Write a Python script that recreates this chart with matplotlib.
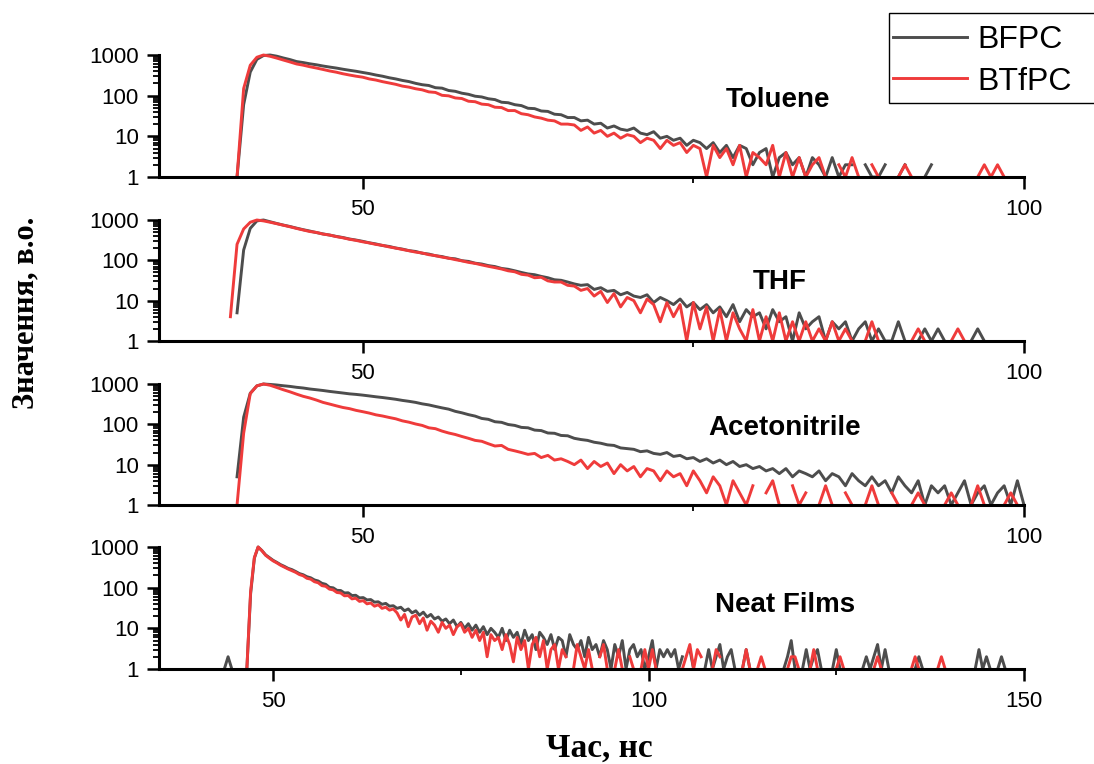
import numpy as np
import matplotlib
matplotlib.use("Agg")
import matplotlib.pyplot as plt
from matplotlib.lines import Line2D
from matplotlib.patches import Rectangle
from matplotlib.ticker import FixedLocator, LogLocator, NullFormatter

plt.rcParams['font.family'] = ['Liberation Sans', 'DejaVu Sans']

# ---------------------------------------------------------------------------
# Time-resolved photoluminescence decays (normalised counts, peak = 1000)
# ---------------------------------------------------------------------------
SERIES = ["BFPC", "BTfPC"]
SOLVENTS = ["Toluene", "THF", "Acetonitrile", "Neat Films"]
COLORS = {"BFPC": "#4d4d4d", "BTfPC": "#ef3b3b"}

# time of the first channel (ns) and channel width (ns)
T0_SOLUTION = 39.0
T0_FILM = 43.0
DT = 0.5

toluene_bfpc = [
    0, 0, 0, 1, 60, 380, 780, 970, 1000, 935,
    845, 772, 690, 652, 608, 575, 536, 505, 478, 447,
    421, 398, 372, 349, 322, 301, 276, 258, 237, 222,
    201, 186, 178, 157, 153, 134, 128, 115, 108, 97,
    93, 84, 80, 69, 67, 60, 57, 49, 48, 42,
    41, 35, 34, 29, 29, 24, 25, 20, 21, 16,
    18, 15, 14, 16, 12, 11, 13, 9, 10, 8,
    9, 6, 8, 7, 5, 7, 4, 6, 3, 6,
    5, 2, 4, 5, 1, 3, 4, 2, 3, 1,
    3, 2, 1, 3, 1, 2, 2, 0, 2, 1,
    1, 2, 0, 1, 2, 0, 0, 1, 2, 0,
    0, 0, 0, 0, 0, 0, 0, 0, 0, 0, 0, 0, 0,
]
toluene_btfpc = [
    0, 0, 0, 1, 150, 560, 880, 1000, 930, 840,
    752, 675, 602, 562, 515, 478, 441, 405, 378, 346,
    322, 301, 285, 258, 242, 221, 205, 190, 172, 162,
    148, 139, 124, 120, 102, 99, 88, 85, 73, 71,
    62, 60, 52, 51, 43, 43, 36, 34, 30, 28,
    25, 24, 20, 20, 19, 14, 17, 12, 14, 10,
    12, 9, 11, 10, 7, 9, 8, 5, 8, 6,
    7, 4, 6, 5, 1, 6, 3, 5, 2, 6,
    1, 4, 3, 2, 6, 1, 4, 1, 3, 1,
    2, 3, 1, 0, 2, 1, 3, 1, 0, 2,
    1, 0, 0, 1, 2, 1, 0, 0, 0, 0,
    0, 0, 0, 0, 0, 1, 2, 1, 2, 1, 0, 0, 0,
]

thf_bfpc = [
    0, 0, 0, 5, 180, 620, 950, 1000, 905, 820,
    748, 690, 628, 575, 532, 488, 452, 423, 392, 368,
    338, 318, 296, 272, 255, 233, 221, 202, 190, 174,
    166, 150, 143, 130, 124, 113, 109, 98, 94, 85,
    81, 74, 70, 63, 60, 55, 50, 46, 44, 40,
    37, 33, 32, 29, 26, 24, 25, 19, 21, 17,
    18, 14, 16, 13, 12, 14, 9, 12, 10, 8,
    11, 7, 9, 6, 8, 5, 7, 4, 8, 3,
    6, 4, 5, 2, 6, 3, 4, 1, 5, 2,
    3, 4, 1, 3, 2, 3, 1, 2, 3, 1,
    2, 1, 1, 3, 1, 0, 1, 2, 1, 2,
    1, 0, 0, 0, 1, 2, 1, 0, 0, 0, 0, 0, 0,
]
thf_btfpc = [
    0, 0, 4, 250, 600, 880, 1000, 950, 880, 810,
    742, 680, 618, 566, 518, 492, 447, 424, 388, 362,
    333, 312, 288, 270, 248, 235, 215, 201, 186, 173,
    160, 152, 138, 131, 120, 113, 104, 97, 89, 84,
    77, 71, 66, 61, 55, 52, 45, 43, 37, 38,
    31, 29, 29, 24, 23, 18, 20, 13, 17, 9,
    15, 7, 12, 10, 5, 11, 8, 3, 9, 4,
    8, 1, 9, 2, 7, 1, 6, 1, 5, 2,
    1, 6, 1, 4, 1, 5, 1, 3, 1, 3,
    1, 2, 1, 3, 1, 2, 1, 0, 1, 3,
    1, 0, 0, 0, 0, 1, 2, 1, 0, 0,
    0, 1, 2, 1, 0, 0, 0, 0, 0, 0, 0, 0, 0,
]

acetonitrile_bfpc = [
    0, 0, 0, 5, 150, 590, 900, 1000, 975, 945,
    905, 872, 828, 796, 752, 721, 690, 655, 626, 598,
    570, 552, 530, 506, 482, 462, 440, 418, 392, 372,
    350, 322, 303, 278, 256, 238, 210, 193, 174, 160,
    140, 133, 116, 112, 99, 94, 84, 82, 72, 70,
    61, 60, 53, 52, 45, 42, 40, 36, 34, 31,
    30, 26, 25, 24, 21, 22, 19, 18, 20, 16,
    17, 14, 15, 12, 14, 11, 13, 10, 12, 9,
    10, 8, 9, 7, 8, 6, 8, 5, 7, 6,
    5, 7, 4, 6, 5, 3, 6, 4, 3, 5,
    3, 4, 2, 5, 3, 2, 4, 1, 3, 2,
    3, 1, 2, 4, 1, 2, 3, 1, 2, 3, 1, 4, 1,
]
acetonitrile_btfpc = [
    0, 0, 0, 1, 60, 580, 900, 1000, 930, 820,
    720, 640, 560, 495, 450, 400, 350, 318, 288, 262,
    245, 222, 206, 190, 172, 161, 148, 137, 122, 113,
    102, 94, 82, 78, 68, 61, 56, 50, 45, 40,
    38, 33, 29, 30, 24, 22, 20, 18, 19, 15,
    17, 13, 14, 12, 10, 13, 8, 12, 9, 11,
    6, 10, 7, 9, 5, 8, 7, 4, 7, 5,
    6, 3, 7, 4, 2, 5, 3, 1, 4, 2,
    1, 3, 0, 2, 4, 1, 0, 3, 1, 2,
    0, 1, 3, 1, 0, 2, 1, 0, 1, 3,
    1, 0, 2, 1, 0, 1, 2, 1, 0, 0,
    1, 2, 1, 0, 1, 3, 1, 0, 0, 1, 2, 1, 0,
]

film_bfpc = [
    0, 1, 2, 1, 0, 0, 0, 1, 70, 530,
    1000, 820, 640, 548, 470, 418, 368, 334, 298, 278,
    250, 222, 208, 186, 175, 155, 146, 128, 121, 102,
    99, 86, 85, 74, 75, 64, 65, 56, 57, 50,
    51, 44, 45, 39, 41, 35, 36, 31, 33, 27,
    30, 24, 27, 21, 25, 19, 22, 17, 19, 15,
    17, 13, 16, 11, 14, 10, 13, 9, 12, 8,
    11, 7, 10, 8, 6, 10, 5, 9, 6, 8,
    4, 9, 5, 7, 3, 8, 6, 4, 7, 3,
    6, 5, 2, 7, 4, 3, 5, 2, 6, 3,
    4, 2, 5, 3, 1, 4, 2, 5, 1, 3,
    4, 2, 3, 1, 2, 5, 1, 3, 2, 3,
    2, 3, 1, 2, 0, 3, 1, 0, 0, 1,
    3, 1, 2, 4, 1, 2, 3, 1, 0, 1,
    3, 1, 0, 0, 0, 0, 0, 0, 0, 0,
    1, 2, 5, 1, 0, 1, 3, 1, 2, 3,
    1, 0, 0, 1, 3, 1, 0, 0, 0, 0,
    0, 1, 2, 1, 2, 4, 1, 3, 1, 0,
    0, 0, 0, 0, 0, 1, 2, 1, 0, 0,
    0, 0, 0, 0, 0, 0, 0, 0, 0, 0,
    0, 1, 3, 1, 2, 1, 0, 1, 2, 1,
    0, 0, 0, 0, 0,
]
film_btfpc = [
    0, 0, 0, 0, 0, 0, 0, 1, 80, 550,
    1000, 810, 625, 530, 455, 405, 355, 320, 287, 262,
    238, 210, 196, 170, 162, 140, 132, 112, 108, 92,
    88, 76, 74, 63, 64, 53, 55, 46, 48, 40,
    42, 35, 38, 31, 33, 28, 30, 24, 16, 22,
    11, 19, 21, 13, 18, 9, 15, 12, 8, 14,
    10, 12, 7, 11, 13, 8, 10, 6, 9, 5,
    8, 2, 7, 5, 6, 3, 7, 4, 1.5, 6,
    3, 5, 1, 4, 6, 2, 5, 1, 3, 4,
    1, 3, 2, 0, 1, 4, 2, 1, 3, 1,
    0, 2, 4, 1, 0, 1, 3, 1, 0, 2,
    1, 0, 1, 3, 1, 3, 1, 0, 0, 0,
    1, 0, 0, 1, 2, 4, 1, 3, 2, 0,
    0, 1, 3, 2, 0, 0, 0, 0, 0, 1,
    3, 1, 0, 1, 2, 1, 0, 0, 0, 0,
    0, 1, 2, 2, 1, 0, 0, 1, 3, 1,
    0, 0, 0, 0, 1, 2, 1, 0, 0, 0,
    0, 1, 0, 0, 1, 2, 1, 0, 0, 0,
    0, 0, 0, 0, 1, 2, 1, 0, 0, 0,
    0, 1, 2, 1, 0, 0, 0, 0, 0, 0,
    0, 0, 0, 0, 0, 0, 0, 0, 0, 0,
    0, 0, 0, 0, 0,
]

PANELS = [
    ("Toluene", T0_SOLUTION, toluene_bfpc, toluene_btfpc),
    ("THF", T0_SOLUTION, thf_bfpc, thf_btfpc),
    ("Acetonitrile", T0_SOLUTION, acetonitrile_bfpc, acetonitrile_btfpc),
    ("Neat Films", T0_FILM, film_bfpc, film_btfpc),
]

Y_TICKS = [1, 10, 100, 1000]
Y_TICK_LABELS = ["1", "10", "100", "1000"]
X_TICKS_SOLUTION = [50, 100]
X_MINOR_SOLUTION = [75]
X_TICKS_FILM = [50, 100, 150]
X_MINOR_FILM = [75, 125]

LW = 2.1


def trace(t0, values):
    v = np.asarray(values, dtype=float)
    v[v <= 0] = np.nan          # empty channels leave a gap on the log axis
    t = t0 + DT * np.arange(v.size)
    return t, v


W, H = 1094, 764
fig = plt.figure(figsize=(W / 100, H / 100), dpi=100)


def fx(px):
    return px / W


def fy(py):
    return 1 - py / H


# axes boxes in pixels: (top of the 1000 line, bottom axis line)
boxes = [(55, 177), (220, 341), (384, 505), (547, 669)]
left_px, right_px = 159, 1024
label_pos = [(778, 100), (780, 282), (785, 428), (785, 605)]

for i, (name, t0, bfpc, btfpc) in enumerate(PANELS):
    top, bot = boxes[i]
    ax = fig.add_axes([fx(left_px), fy(bot), (right_px - left_px) / W, (bot - top) / H])
    ax.patch.set_alpha(0)
    for label, vals in zip(SERIES, (bfpc, btfpc)):
        t, v = trace(t0, vals)
        ax.plot(t, v, color=COLORS[label], lw=LW, label=label, clip_on=False)

    ax.set_yscale('log')
    ax.set_ylim(1, 1000)
    if i < 3:
        ax.set_xlim(34.6, 100)
        ax.set_xticks(X_TICKS_SOLUTION)
        ax.set_xticks(X_MINOR_SOLUTION, minor=True)
        ax.set_xticklabels([str(x) for x in X_TICKS_SOLUTION])
    else:
        ax.set_xlim(34.8, 150)
        ax.set_xticks(X_TICKS_FILM)
        ax.set_xticks(X_MINOR_FILM, minor=True)
        ax.set_xticklabels([str(x) for x in X_TICKS_FILM])

    ax.yaxis.set_major_locator(FixedLocator(Y_TICKS))
    ax.set_yticklabels(Y_TICK_LABELS)
    ax.yaxis.set_minor_locator(LogLocator(base=10, subs=np.arange(2, 10), numticks=20))
    ax.yaxis.set_minor_formatter(NullFormatter())

    for s in ("top", "right"):
        ax.spines[s].set_visible(False)
    for s in ("left", "bottom"):
        ax.spines[s].set_linewidth(2.2)
        ax.spines[s].set_zorder(3)

    ax.tick_params(which='major', direction='out', length=8.5, width=1.8,
                   labelsize=16, colors='black')
    ax.tick_params(which='minor', direction='out', length=4.5, width=1.3)
    ax.tick_params(axis='y', which='major', pad=6)
    ax.tick_params(axis='x', which='major', pad=7)

    lx, ly = label_pos[i]
    fig.text(fx(lx), fy(ly), name, ha='center', va='center',
             fontsize=20, fontweight='bold')

# legend box in the top-right corner (runs off the right edge of the canvas)
fig.add_artist(Rectangle((fx(889), fy(103)), (1110 - 889) / W, 90 / H,
                         transform=fig.transFigure, facecolor='white',
                         edgecolor='black', lw=1.0, zorder=5))
for label, yrow in zip(SERIES, (37, 78)):
    fig.add_artist(Line2D([fx(893), fx(967)], [fy(yrow), fy(yrow)],
                          transform=fig.transFigure, color=COLORS[label],
                          lw=LW, zorder=6))
    fig.text(fx(977), fy(yrow), label, ha='left', va='center_baseline',
             fontsize=23, zorder=6)

fig.text(fx(26), fy(313), "Значення, в.о.", rotation=90, ha='center', va='center',
         fontsize=22, fontweight='bold', family=['Liberation Serif', 'DejaVu Serif'])
fig.text(fx(599), fy(748), "Час, нс", ha='center', va='center',
         fontsize=24, fontweight='bold', family=['Liberation Serif', 'DejaVu Serif'])

fig.savefig("out.png", dpi=100)
